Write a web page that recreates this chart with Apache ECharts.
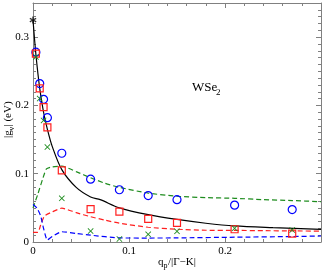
<!DOCTYPE html>
<html><head><meta charset="utf-8">
<script src="https://cdn.jsdelivr.net/npm/echarts@6/dist/echarts.min.js"></script>
<style>html,body{margin:0;padding:0;background:#fff}#c{width:324px;height:271px}</style>
</head><body><div id="c"></div>
<script>
// ---- data ----
const xTickLabels = ['0', '0.1', '0.2'];
const yTickLabels = ['0', '0.1', '0.2', '0.3'];

const markerX   = [0.003, 0.007, 0.011, 0.015, 0.03, 0.06, 0.09, 0.12, 0.15, 0.21, 0.27];
const blueVals  = [0.278, 0.232, 0.209, 0.182, 0.130, 0.092, 0.0765, 0.068, 0.062, 0.054, 0.0475];
const redVals   = [0.276, 0.225, 0.1975, 0.168, 0.105, 0.048, 0.0446, 0.034, 0.028, 0.0187, 0.0122];
const greenVals = [0.271, 0.210, 0.178, 0.139, 0.064, 0.016, 0.0044, 0.0113, 0.0157, 0.020, 0.0176];

const starX = [0];
const starY = [0.325];

const blackLineX = [0, 0.003, 0.007, 0.011, 0.015, 0.02, 0.03, 0.045, 0.06, 0.07, 0.09, 0.12, 0.15, 0.18, 0.21, 0.25, 0.3];
const blackLineY = [0.325, 0.275, 0.225, 0.19, 0.165, 0.14, 0.106, 0.08, 0.066, 0.062, 0.05, 0.04, 0.033, 0.0275, 0.0235, 0.021, 0.0185];

const greenLineX = [0, 0.005, 0.01, 0.014, 0.02, 0.03, 0.045, 0.06, 0.075, 0.09, 0.12, 0.15, 0.18, 0.21, 0.24, 0.27, 0.3];
const greenLineY = [0.05, 0.07, 0.092, 0.107, 0.11, 0.111, 0.103, 0.094, 0.086, 0.080, 0.0716, 0.067, 0.065, 0.064, 0.062, 0.0607, 0.059];

const redLineX = [0, 0.005, 0.008, 0.012, 0.02, 0.03, 0.045, 0.06, 0.075, 0.09, 0.12, 0.15, 0.18, 0.21, 0.24, 0.27, 0.3];
const redLineY = [0.014, 0.014, 0.025, 0.038, 0.044, 0.0495, 0.043, 0.037, 0.032, 0.0275, 0.0216, 0.0187, 0.0172, 0.017, 0.0166, 0.0162, 0.016];

const blueLineX = [0, 0.004, 0.008, 0.011, 0.015, 0.02, 0.03, 0.045, 0.06, 0.09, 0.12, 0.15, 0.21, 0.27, 0.3];
const blueLineY = [0.055, 0.05, 0.038, 0.02, 0.003, 0.008, 0.015, 0.0125, 0.010, 0.006, 0.0058, 0.006, 0.007, 0.008, 0.0088];

// ---- build ----
const zip = (xs, ys) => xs.map((x, i) => [x, ys[i]]);
const FONT = 'Liberation Serif';
const AX = '#808080';
const BLUE = '#0000ff', RED = '#ff2020', GREEN = '#1e8c1e';

function xAx(pos, labels) {
  return {
    type: 'value', position: pos, min: 0, max: 0.3, interval: 0.1,
    axisLine: { show: true, onZero: false, lineStyle: { color: AX, width: 1 } },
    axisTick: { show: true, inside: true, length: 5, lineStyle: { color: AX } },
    minorTick: { show: true, splitNumber: 5, length: 3, lineStyle: { color: AX } },
    splitLine: { show: false }, minorSplitLine: { show: false },
    axisLabel: {
      show: labels, margin: 4, color: '#000', fontFamily: FONT, fontSize: 11,
      formatter: v => { const i = Math.round(v * 10); return (Math.abs(v * 10 - i) < 1e-6 && i < xTickLabels.length) ? xTickLabels[i] : ''; }
    }
  };
}
function yAx(pos, labels) {
  return {
    type: 'value', position: pos, min: 0, max: 0.35, interval: 0.1,
    axisLine: { show: true, onZero: false, lineStyle: { color: AX, width: 1 } },
    axisTick: { show: true, inside: true, length: 5, lineStyle: { color: AX } },
    minorTick: { show: true, splitNumber: 10, length: 3, lineStyle: { color: AX } },
    splitLine: { show: false }, minorSplitLine: { show: false },
    axisLabel: {
      show: labels, margin: 4, color: '#000', fontFamily: FONT, fontSize: 11, showMaxLabel: false,
      formatter: v => { const i = Math.round(v * 10); return (Math.abs(v * 10 - i) < 1e-6 && i < yTickLabels.length) ? yTickLabels[i] : ''; }
    }
  };
}

const dashLine = (name, xs, ys, color) => ({
  name, type: 'line', data: zip(xs, ys), symbol: 'none', smooth: 0.2,
  lineStyle: { color, width: 1.2, type: [5, 3] }, z: 2, silent: true
});

const crossPath = 'path://M0,1L1,0L5,4L9,0L10,1L6,5L10,9L9,10L5,6L1,10L0,9L4,5Z';
const starPath = 'path://M4,0L6,0L6,3.6L9,1.6L10,3.4L6.9,5L10,6.6L9,8.4L6,6.4L6,10L4,10L4,6.4L1,8.4L0,6.6L3.1,5L0,3.4L1,1.6L4,3.6Z';
const T = 'rgba(0,0,0,0)';

const chart = echarts.init(document.getElementById('c'), null, { renderer: 'canvas' });
chart.setOption({
  animation: false,
  backgroundColor: '#fff',
  grid: { left: 33, right: 2, top: 3, bottom: 29, containLabel: false },
  xAxis: [xAx('bottom', true), xAx('top', false)],
  yAxis: [yAx('left', true), yAx('right', false)],
  series: [
    dashLine('green', greenLineX, greenLineY, GREEN),
    dashLine('red', redLineX, redLineY, RED),
    dashLine('blue', blueLineX, blueLineY, BLUE),
    { name: 'black', type: 'line', data: zip(blackLineX, blackLineY), symbol: 'none', smooth: 0.3,
      lineStyle: { color: '#000', width: 1.2 }, z: 3, silent: true },
    { name: 'circles', type: 'scatter', data: zip(markerX, blueVals), symbol: 'circle', symbolSize: 8,
      itemStyle: { color: T, borderColor: BLUE, borderWidth: 1.2, opacity: 1 }, z: 4 },
    { name: 'squares', type: 'scatter', data: zip(markerX, redVals), symbol: 'rect', symbolSize: 7,
      itemStyle: { color: T, borderColor: RED, borderWidth: 1.2, opacity: 1 }, z: 4 },
    { name: 'crosses', type: 'scatter', data: zip(markerX, greenVals), symbol: crossPath, symbolSize: 6,
      itemStyle: { color: GREEN, opacity: 1 }, z: 5 },
    { name: 'star', type: 'scatter', data: zip(starX, starY), symbol: starPath, symbolSize: 7, clip: false,
      itemStyle: { color: '#000' }, z: 6 }
  ],
  graphic: [
    { type: 'group', x: 158, y: 262, children: [
      { type: 'text', x: 0, y: 0, style: { text: 'q', font: '11px "Liberation Serif"', fill: '#000', verticalAlign: 'middle' } },
      { type: 'text', x: 5.5, y: 4, style: { text: 'p', font: '8px "Liberation Serif"', fill: '#000', verticalAlign: 'middle' } },
      { type: 'text', x: 10, y: 0, style: { text: '/|Γ−K|', font: '11px "Liberation Serif"', fill: '#000', verticalAlign: 'middle' } }
    ]},
    { type: 'group', x: 8, y: 138, rotation: Math.PI / 2, children: [
      { type: 'text', x: 0, y: 0, style: { text: '|g', font: '11px "Liberation Serif"', fill: '#000', verticalAlign: 'middle' } },
      { type: 'text', x: 7.5, y: 4, style: { text: 'ν', font: '8px "Liberation Serif"', fill: '#000', verticalAlign: 'middle' } },
      { type: 'text', x: 11.5, y: 0, style: { text: '| (eV)', font: '11px "Liberation Serif"', fill: '#000', verticalAlign: 'middle' } }
    ]},
    { type: 'group', x: 192, y: 88, children: [
      { type: 'text', x: 0, y: 0, style: { text: 'WSe', font: '13px "Liberation Serif"', fill: '#000', verticalAlign: 'middle' } },
      { type: 'text', x: 24, y: 4.5, style: { text: '2', font: '9px "Liberation Serif"', fill: '#000', verticalAlign: 'middle' } }
    ]}
  ]
});
</script></body></html>
